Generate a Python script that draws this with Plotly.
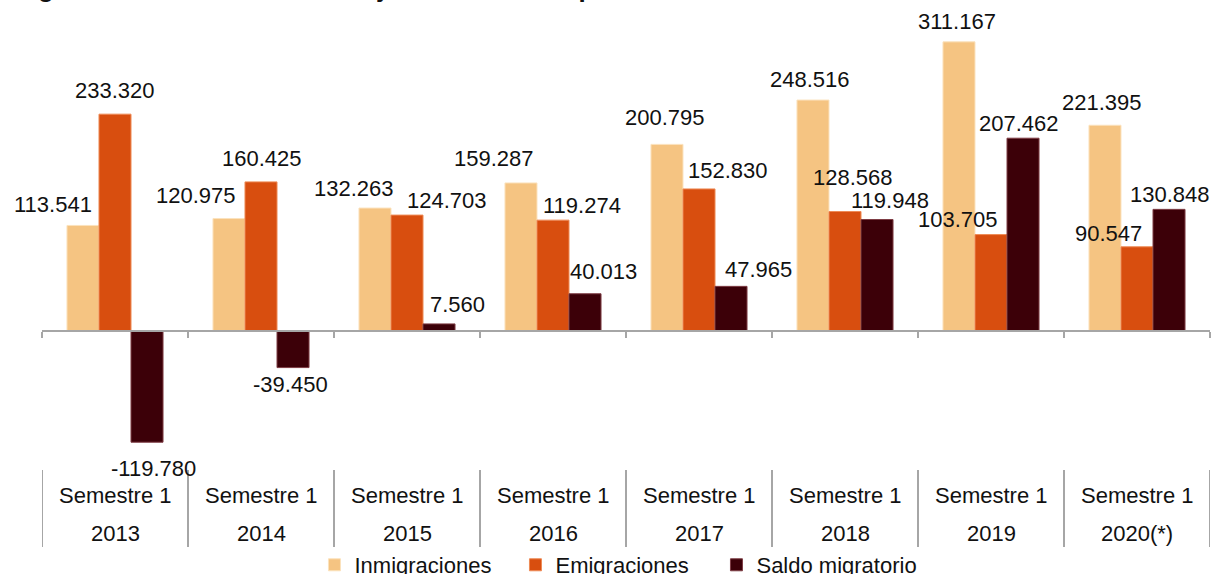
import plotly.graph_objects as go

# ---- data ----
years = ["2013", "2014", "2015", "2016", "2017", "2018", "2019", "2020(*)"]
period_label = "Semestre 1"
inmigraciones = [113541, 120975, 132263, 159287, 200795, 248516, 311167, 221395]
emigraciones = [233320, 160425, 124703, 119274, 152830, 128568, 103705, 90547]
saldo = [-119780, -39450, 7560, 40013, 47965, 119948, 207462, 130848]
series_names = ["Inmigraciones", "Emigraciones", "Saldo migratorio"]
title_text = "Figura 1. Evolución de extranjeros durante el primer semestre de cada año"

# ---- styling ----
FONT = "Liberation Sans, Arial, sans-serif"
fills = ["#F5C482", "#D84E0F", "#3C0008"]
edges = ["#FBE2BD", "#EE8A55", "#7E3C44"]
BARGAP = 0.342
bw = (1 - BARGAP) / 3

# label nudges in pixels (dx, dy), per series and category
nudges = [
    [(-30, 21), (-33, 23), (-21, 20), (-27, 24), (-2, 27), (-3, 21), (-2, 20), (-3, 23)],
    [(0, 24), (1, 23), (40, 15), (29, 15), (29, 18), (8, 34), (-33, 15), (-29, 13)],
    [(6, -26), (-3, -17), (18, 19), (18, 22), (27, 17), (13, 19), (-4, 15), (1, 15)],
]

def fmt(v):
    return f"{v:,}".replace(",", ".")

fig = go.Figure()
all_series = [inmigraciones, emigraciones, saldo]
for name, vals, fc, ec in zip(series_names, all_series, fills, edges):
    fig.add_trace(go.Bar(
        name=name, x=years, y=vals,
        marker=dict(color=fc, line=dict(color=ec, width=1)),
        hoverinfo="x+y+name",
    ))

annotations = []
for s, vals in enumerate(all_series):
    for i, v in enumerate(vals):
        dx, dy = nudges[s][i]
        annotations.append(dict(
            x=i + (s - 1) * bw, y=v, xref="x", yref="y",
            text=fmt(v), showarrow=False, xanchor="center", yanchor="middle",
            xshift=dx, yshift=dy,
            font=dict(family=FONT, size=22, color="#111111"),
        ))

for i, yr in enumerate(years):
    annotations.append(dict(x=i, y=-0.081, xref="x", yref="paper", text=period_label,
                            showarrow=False, yanchor="middle",
                            font=dict(family=FONT, size=22, color="#111111")))
    annotations.append(dict(x=i, y=-0.1667, xref="x", yref="paper", text=yr,
                            showarrow=False, yanchor="middle",
                            font=dict(family=FONT, size=22, color="#111111")))

annotations.append(dict(x=-0.0248, y=1.055, xref="paper", yref="paper",
                        text=f"<b>{title_text}</b>", showarrow=False,
                        xanchor="left", yanchor="bottom",
                        font=dict(family=FONT, size=26, color="#111111")))

shapes = []
for k in range(len(years) + 1):
    shapes.append(dict(type="line", xref="x", yref="paper",
                       x0=k - 0.5, x1=k - 0.5, y0=-0.0208, y1=-0.199,
                       line=dict(color="#A6A6A6", width=2)))

ymin, ymax = -140000, 325000
fig.update_layout(
    width=1215, height=574,
    barmode="group", bargap=BARGAP, bargroupgap=0,
    plot_bgcolor="white", paper_bgcolor="white",
    margin=dict(l=42, r=5, t=29, b=113, autoexpand=False),
    font=dict(family=FONT, size=22, color="#111111"),
    xaxis=dict(type="category", range=[-0.5, 7.5], showticklabels=False,
               showline=True, linecolor="#A6A6A6", linewidth=2,
               ticks="outside", tickson="boundaries", ticklen=6,
               tickcolor="#A6A6A6", tickwidth=2, showgrid=False,
               anchor="free", position=(0 - ymin) / (ymax - ymin)),
    yaxis=dict(range=[ymin, ymax], visible=False, showgrid=False, zeroline=False),
    legend=dict(orientation="h", x=0.4914, xanchor="center", y=-0.2407, yanchor="middle",
                font=dict(family=FONT, size=22, color="#111111"),
                itemwidth=30, entrywidth=156, entrywidthmode="pixels",
                bgcolor="rgba(0,0,0,0)"),
    annotations=annotations,
    shapes=shapes,
)

fig.write_html("out.html", config={"displayModeBar": False},
               post_script="document.body.style.margin='0px';")
